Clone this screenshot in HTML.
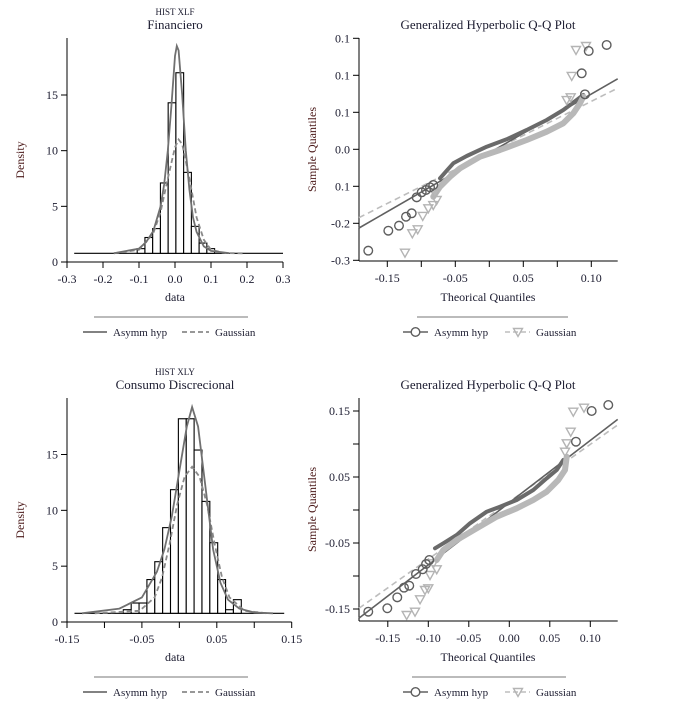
<!DOCTYPE html>
<html><head><meta charset="utf-8">
<style>
html,body{margin:0;padding:0;background:#fff;}
svg{display:block;font-family:"Liberation Serif",serif;}
</style></head>
<body>
<svg id="root" width="673" height="707" viewBox="0 0 673 707" xmlns="http://www.w3.org/2000/svg"></svg>
<script>
// ---------- DATA ----------
// Panel 1: Financiero histogram
const h1Edges = [-0.105,-0.0835,-0.062,-0.0405,-0.019,0.0025,0.024,0.0455,0.067,0.0885,0.11];
const h1Dens = [1.2,2.2,3.0,7.1,14.3,17.0,8.05,3.2,1.7,1.2];
const h1AsymX = [-0.17,-0.1,-0.08,-0.06,-0.04,-0.03,-0.02,-0.01,0,0.005,0.01,0.02,0.03,0.04,0.05,0.06,0.08,0.1,0.15];
const h1AsymY = [0.78,1.2,1.8,2.8,5,7,10,14,18.5,19.4,19,15,10,6.5,4,2.7,1.4,1.0,0.8];
const h1GausX = [-0.17,-0.1,-0.06,-0.04,-0.02,0,0.01,0.02,0.04,0.06,0.08,0.1,0.14,0.19];
const h1GausY = [0.78,1.1,2.6,4.5,7.5,10.3,11,10.6,7.5,4,2,1.1,0.8,0.78];
const h1XTicks = [-0.3,-0.2,-0.1,0,0.1,0.2,0.3];
const h1XLabels = ["-0.3","-0.2","-0.1","0.0","0.1","0.2","0.3"];
const h1YTicks = [0,5,10,15];
// Panel 3: Consumo Discrecional histogram
const h3Edges = [-0.0748,-0.0643,-0.0538,-0.0433,-0.0328,-0.0223,-0.0118,-0.0013,0.0092,0.0197,0.0302,0.0407,0.0512,0.0617,0.0722,0.0827];
const h3Dens = [1.1,1.7,1.7,3.8,5.4,8.45,11.85,18.2,18.2,15.4,10.8,7.1,3.8,1.1,2.0];
const h3AsymX = [-0.13,-0.08,-0.05,-0.03,-0.02,-0.01,0,0.01,0.017,0.025,0.035,0.045,0.055,0.065,0.08,0.1,0.125];
const h3AsymY = [0.78,1.2,2.2,4.5,6.5,9.5,13.5,17.5,19.25,17.5,12,6.5,3.5,2,1.2,0.85,0.78];
const h3GausX = [-0.113,-0.053,-0.033,-0.023,-0.013,-0.003,0.007,0.017,0.027,0.037,0.047,0.057,0.067,0.087,0.117];
const h3GausY = [0.78,1.0,2.2,4,7,10.5,13,13.9,13,10.5,7,4,2.2,1.0,0.78];
const h3XTicks = [-0.15,-0.1,-0.05,0,0.05,0.1,0.15];
const h3XLabels = ["-0.15","","-0.05","","0.05","","0.15"];
const h3YTicks = [0,5,10,15];
// Panel 2: QQ Financiero
const q2XTicks = [-0.15,-0.1,-0.05,0,0.05,0.1,0.15];
const q2XLabels = ["-0.15","","-0.05","","0.05","","0.10"];
const q2YTicks = [0.15,0.1,0.05,0,-0.05,-0.1,-0.15];
const q2YLabels = ["0.1","0.1","0.1","0.0","0.1","-0.2","-0.3"];
const q2CircX = [0.1726,0.1462,0.1359,0.1407,-0.178,-0.1485,-0.1328,-0.1225,-0.1141,-0.1068,-0.0994,-0.0931,-0.0872,-0.0824];
const q2CircY = [0.141,0.1328,0.1027,0.0743,-0.137,-0.110,-0.1032,-0.0911,-0.0865,-0.0649,-0.0581,-0.055,-0.0514,-0.0482];
const q2TriX = [0.1275,0.1422,0.1212,0.1138,0.1197,-0.124,-0.1132,-0.1053,-0.0979,-0.0897,-0.0824,-0.0774,-0.0799];
const q2TriY = [0.1342,0.1396,0.0991,0.0666,0.0703,-0.1397,-0.1135,-0.1081,-0.0901,-0.0797,-0.0753,-0.0685,-0.0595];
const q2BandAX = [-0.0725,-0.0626,-0.0529,-0.0332,-0.0038,0.0256,0.055,0.0844,0.1088,0.1285,0.1382];
const q2BandAY = [-0.0392,-0.0289,-0.0189,-0.0091,0.0035,0.0135,0.0261,0.0396,0.0531,0.0666,0.0734];
const q2BandGX = [-0.0824,-0.0725,-0.0578,-0.0431,-0.0137,0.0157,0.055,0.0844,0.1088,0.1235,0.1334,0.1382];
const q2BandGY = [-0.0641,-0.0505,-0.037,-0.0257,-0.01,-0.0009,0.0126,0.0238,0.0351,0.0486,0.0622,0.0711];
const q2LineA = [0.530,-0.0048];
const q2LineG = [0.460,-0.0042];
// Panel 4: QQ Consumo
const q4XTicks = [-0.15,-0.1,-0.05,0,0.05,0.1];
const q4XLabels = ["-0.15","-0.10","-0.05","0.00","0.05","0.10"];
const q4YTicks = [0.15,0.1,0.05,0,-0.05,-0.1,-0.15];
const q4YLabels = ["0.15","","0.05","","-0.05","","-0.15"];
const q4CircX = [0.1222,0.1017,0.0823,-0.1741,-0.1506,-0.1383,-0.13,-0.1235,-0.1152,-0.1069,-0.1028,-0.0988];
const q4CircY = [0.1591,0.15,0.1035,-0.1541,-0.1489,-0.1323,-0.1177,-0.1147,-0.097,-0.0898,-0.0818,-0.0758];
const q4TriX = [0.079,0.0922,0.0758,0.0709,0.0688,-0.1267,-0.1164,-0.1102,-0.1041,-0.1,-0.0979,-0.0896,-0.0938];
const q4TriY = [0.1489,0.155,0.1186,0.1011,0.0883,-0.1591,-0.1541,-0.1353,-0.1212,-0.1186,-0.0985,-0.0898,-0.0808];
const q4BandAX = [-0.0917,-0.0815,-0.0649,-0.0485,-0.0279,-0.0115,0.0091,0.0296,0.0462,0.0585,0.0667];
const q4BandAY = [-0.058,-0.0505,-0.0379,-0.0202,-0.0026,0.005,0.0152,0.0303,0.048,0.0606,0.0758];
const q4BandGX = [-0.0896,-0.0815,-0.0649,-0.0402,-0.0156,0.0091,0.0296,0.0462,0.0605,0.0688,0.0709];
const q4BandGY = [-0.0758,-0.0606,-0.0455,-0.0277,-0.0102,0.0026,0.0152,0.0277,0.0455,0.0606,0.0808];
const q4LineA = [0.943,0.0111];
const q4LineG = [0.8695,0.0125];

// ---------- DRAWING ----------
const NS = "http://www.w3.org/2000/svg";
const root = document.getElementById('root');
function mk(tag, attrs, parent, txt){
  const e = document.createElementNS(NS, tag);
  for (const k in attrs) e.setAttribute(k, attrs[k]);
  if (txt !== undefined) e.textContent = txt;
  (parent || root).appendChild(e);
  return e;
}
function grp(name){
  const g = mk('g', {});
  
  
  return g;
}
function lin(d0, d1, r0, r1){ return v => r0 + (v - d0) * (r1 - r0) / (d1 - d0); }
function poly(xs, ys, sx, sy){ return xs.map((x,i)=> sx(x).toFixed(1)+','+sy(ys[i]).toFixed(1)).join(' '); }

function text(g, x, y, s, size, anchor, fill, name, extra){
  const t = mk('text', Object.assign({x:x, y:y, 'font-size':size, 'text-anchor':anchor||'middle', fill:fill||'#1c1c30'}, extra||{}), g, s);
  
  
  return t;
}

function axes(g, ax){
  const yl = mk('line', {x1:ax.x0, y1:ax.yTop, x2:ax.x0, y2:ax.y0, stroke:'#000', 'stroke-width':1}, g);
  
  
  const xl = mk('line', {x1:ax.x0, y1:ax.y0, x2:ax.xRight, y2:ax.y0, stroke:'#000', 'stroke-width':1}, g);
  
  
  ax.xTicks.forEach((v,i)=>{
    const px = ax.sx(v);
    const t = mk('line', {x1:px, y1:ax.y0, x2:px, y2:ax.y0+6, stroke:'#000'}, g);
    
    
    if (ax.xLabels[i]) text(g, px, ax.y0+21, ax.xLabels[i], 12, 'middle', '#1c1c30', 'x-tick-label');
  });
  ax.yTicks.forEach((v,i)=>{
    const py = ax.sy(v);
    const t = mk('line', {x1:ax.x0-6, y1:py, x2:ax.x0, y2:py, stroke:'#000'}, g);
    
    
    if (ax.yLabels[i]) text(g, ax.x0-9, py+4, ax.yLabels[i], 12, 'end', '#1c1c30', 'y-tick-label');
  });
}

function histPanel(name, o){
  const g = grp(name);
  const sx = lin(-0.3*o.span, 0.3*o.span, 67, o.xRight);
  const sy = lin(0, 15, o.y0, o.y15);
  text(g, 175, o.y0-247, o.sup, 9, 'middle', '#1c1c30', 'chart-supertitle');
  text(g, 175, o.y0-233, o.title, 13, 'middle', '#1c1c30', 'chart-title');
  axes(g, {x0:67, y0:o.y0, yTop:o.y0-224, xRight:o.xRight, sx:sx, sy:sy, xTicks:o.xTicks, xLabels:o.xLabels, yTicks:o.yTicks, yLabels:o.yTicks.map(String)});
  const base = 0.78;
  const bl = mk('line', {x1:sx(o.baseX[0]), y1:sy(base), x2:sx(o.baseX[1]), y2:sy(base), stroke:'#000', 'stroke-width':1.2}, g);
  
  
  o.dens.forEach((d,i)=>{
    const x1 = sx(o.edges[i]), x2 = sx(o.edges[i+1]);
    const r = mk('rect', {x:x1, y:sy(d), width:x2-x1, height:sy(base)-sy(d), fill:'#fff', stroke:'#000', 'stroke-width':1.1}, g);
    
    
  });
  const ga = mk('polyline', {points:poly(o.gx, o.gy, sx, sy), fill:'none', stroke:'#8a8a8a', 'stroke-width':1.8, 'stroke-dasharray':'5,3'}, g);
  
  
  const aa = mk('polyline', {points:poly(o.ax, o.ay, sx, sy), fill:'none', stroke:'#707070', 'stroke-width':1.8}, g);
  
  
  text(g, 175, o.y0+39, 'data', 12, 'middle', '#1c1c30', 'x-axis-title');
  text(g, 24, (o.y0+o.y0-224)/2+10, 'Density', 12, 'middle', '#4a1818', 'y-axis-title', {transform:'rotate(-90 24 '+((o.y0+o.y0-224)/2+10)+')'});
  const lg = mk('g', {}, g);
  
  
  mk('line', {x1:94, y1:o.y0+55, x2:248, y2:o.y0+55, stroke:'#777'}, lg);
  const l1 = mk('line', {x1:83, y1:o.y0+70, x2:107, y2:o.y0+70, stroke:'#707070', 'stroke-width':1.8}, lg);
  
  
  text(lg, 113, o.y0+74, 'Asymm hyp', 11, 'start', '#1c1c30', 'legend-asymm-hyp-label');
  const l2 = mk('line', {x1:182, y1:o.y0+70, x2:209, y2:o.y0+70, stroke:'#8a8a8a', 'stroke-width':1.8, 'stroke-dasharray':'5,3'}, lg);
  
  
  text(lg, 215, o.y0+74, 'Gaussian', 11, 'start', '#1c1c30', 'legend-gaussian-label');
}

function tri(g, cx, cy, col, name){
  const p = mk('polygon', {points:(cx-4.5)+','+(cy-3.5)+' '+(cx+4.5)+','+(cy-3.5)+' '+cx+','+(cy+4.5), fill:'none', stroke:col, 'stroke-width':1.4}, g);
  
  
}

function qqPanel(name, o){
  const g = grp(name);
  const sx = o.sx, sy = o.sy;
  text(g, 488, o.top-9, 'Generalized Hyperbolic Q-Q Plot', 13, 'middle', '#1c1c30', 'chart-title');
  axes(g, {x0:359, y0:o.bottom, yTop:o.top, xRight:617.7, sx:sx, sy:sy, xTicks:o.xTicks, xLabels:o.xLabels, yTicks:o.yTicks, yLabels:o.yLabels});
  const xa = sx.inv(359), xb = sx.inv(617.7);
  const rg = mk('line', {x1:359, y1:sy(o.lg[0]*xa+o.lg[1]), x2:617.7, y2:sy(o.lg[0]*xb+o.lg[1]), stroke:'#bdbdbd', 'stroke-width':1.6, 'stroke-dasharray':'6,4'}, g);
  
  
  const ra = mk('line', {x1:359, y1:sy(o.la[0]*xa+o.la[1]), x2:617.7, y2:sy(o.la[0]*xb+o.la[1]), stroke:'#606060', 'stroke-width':1.6}, g);
  
  
  const ba = mk('polyline', {points:poly(o.bax, o.bay, sx, sy), fill:'none', stroke:'#6a6a6a', 'stroke-width':4, 'stroke-linejoin':'round', 'stroke-linecap':'round'}, g);
  
  
  const bg = mk('polyline', {points:poly(o.bgx, o.bgy, sx, sy), fill:'none', stroke:'#b8b8b8', 'stroke-width':6, 'stroke-linejoin':'round', 'stroke-linecap':'round'}, g);
  
  
  o.tx.forEach((x,i)=> tri(g, sx(x), sy(o.ty[i]), '#b4b4b4', 'gaussian-point'));
  o.cx.forEach((x,i)=>{
    const c = mk('circle', {cx:sx(x), cy:sy(o.cy[i]), r:4.3, fill:'none', stroke:'#5e5e5e', 'stroke-width':1.4}, g);
    
    
  });
  text(g, 488, o.bottom+40, 'Theorical Quantiles', 12, 'middle', '#1c1c30', 'x-axis-title');
  const my = (o.top+o.bottom)/2;
  text(g, 316, my, 'Sample Quantiles', 12, 'middle', '#4a1818', 'y-axis-title', {transform:'rotate(-90 316 '+my+')'});
  const lg = mk('g', {}, g);
  
  
  mk('line', {x1:o.legX1, y1:o.bottom+56, x2:o.legX2, y2:o.bottom+56, stroke:'#777'}, lg);
  const ly = o.bottom+71;
  const l1 = mk('line', {x1:403, y1:ly, x2:428, y2:ly, stroke:'#606060', 'stroke-width':1.6}, lg);
  
  
  mk('circle', {cx:415.5, cy:ly, r:4.3, fill:'#fff', stroke:'#5e5e5e', 'stroke-width':1.4}, lg);
  text(lg, 434, ly+4, 'Asymm hyp', 11, 'start', '#1c1c30', 'legend-asymm-hyp-label');
  const l2 = mk('line', {x1:505, y1:ly, x2:530, y2:ly, stroke:'#bdbdbd', 'stroke-width':1.6, 'stroke-dasharray':'5,3'}, lg);
  
  
  tri(lg, 518, ly, '#b4b4b4', 'legend-gaussian-marker');
  text(lg, 536, ly+4, 'Gaussian', 11, 'start', '#1c1c30', 'legend-gaussian-label');
}

function scale(d0, r0, k){ const f = v => r0 + (v-d0)*k; f.inv = p => d0 + (p-r0)/k; return f; }

histPanel('histogram-financiero', {sup:'HIST XLF', title:'Financiero', y0:262, y15:95, span:1, xRight:283,
  edges:h1Edges, dens:h1Dens, ax:h1AsymX, ay:h1AsymY, gx:h1GausX, gy:h1GausY,
  xTicks:h1XTicks, xLabels:h1XLabels, yTicks:h1YTicks, baseX:[-0.28,0.3]});
histPanel('histogram-consumo-discrecional', {sup:'HIST XLY', title:'Consumo Discrecional', y0:622, y15:454.5, span:0.5, xRight:291.7,
  edges:h3Edges, dens:h3Dens, ax:h3AsymX, ay:h3AsymY, gx:h3GausX, gy:h3GausY,
  xTicks:h3XTicks, xLabels:h3XLabels, yTicks:h3YTicks, baseX:[-0.14,0.14]});
qqPanel('qq-plot-financiero', {top:38, bottom:261, sx:scale(0,489.3,680), sy:scale(0,149.3,-740),
  xTicks:q2XTicks, xLabels:q2XLabels, yTicks:q2YTicks, yLabels:q2YLabels,
  cx:q2CircX, cy:q2CircY, tx:q2TriX, ty:q2TriY, bax:q2BandAX, bay:q2BandAY, bgx:q2BandGX, bgy:q2BandGY,
  la:q2LineA, lg:q2LineG, legX1:417, legX2:568});
qqPanel('qq-plot-consumo-discrecional', {top:398, bottom:621, sx:scale(0,509.3,810), sy:scale(0,510,-660),
  xTicks:q4XTicks, xLabels:q4XLabels, yTicks:q4YTicks, yLabels:q4YLabels,
  cx:q4CircX, cy:q4CircY, tx:q4TriX, ty:q4TriY, bax:q4BandAX, bay:q4BandAY, bgx:q4BandGX, bgy:q4BandGY,
  la:q4LineA, lg:q4LineG, legX1:412, legX2:566});
</script>
</body></html>
